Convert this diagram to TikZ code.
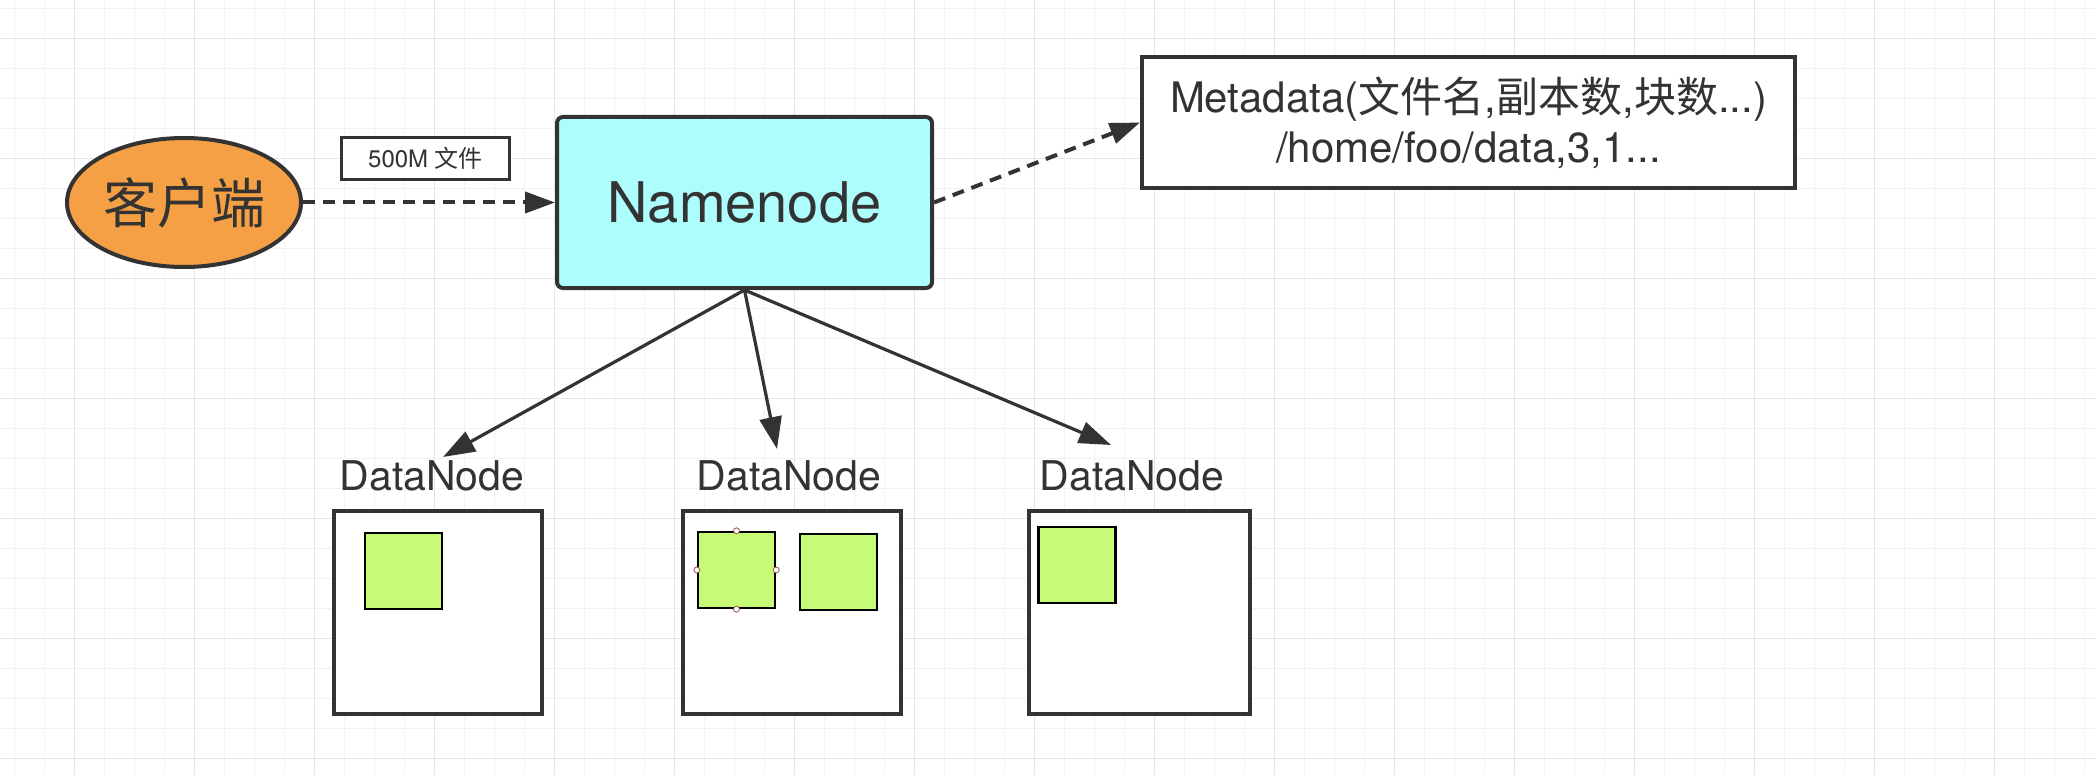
\documentclass[tikz,border=0pt]{standalone}
\usepackage{fontspec}
\setmainfont{TeX Gyre Heros}
\newfontfamily\cjk{Noto Sans CJK SC}
\usetikzlibrary{shapes.geometric,arrows.meta}
\definecolor{ink}{HTML}{333333}
\definecolor{gridminor}{HTML}{F2F2F2}
\definecolor{gridmajor}{HTML}{E6E6E6}
\definecolor{orangefill}{HTML}{F5A044}
\definecolor{cyanfill}{HTML}{AEFDFD}
\definecolor{greenfill}{HTML}{C6FA77}
\definecolor{handlec}{HTML}{A0524D}
\tikzset{
  box/.style={draw=ink, line width=2pt, fill=white, inner sep=0pt, text=ink},
  blockbox/.style={draw=black, line width=1.2pt, fill=greenfill, inner sep=0pt,
    minimum width=38.5pt, minimum height=38pt},
  handle/.style={circle, draw=handlec, line width=0.4pt, fill=white, inner sep=0pt, minimum size=3pt},
  dnlabel/.style={text=ink, inner sep=0pt, font=\fontsize{20.5}{24}\selectfont},
  tipA/.style={-{Triangle[length=16pt,width=11pt]}},
  dasharrow/.style={draw=ink, line width=2pt, dash pattern=on 6pt off 4pt, -{Triangle[length=15pt,width=10.5pt]}},
  solidarrow/.style={draw=ink, line width=1.6pt, tipA},
}
\begin{document}
\begin{tikzpicture}[x=0.5pt,y=-0.5pt]
\useasboundingbox (0,0) rectangle (2096,775);
\fill[white] (0,0) rectangle (2096,775);
% grid
\foreach \k in {0,...,69} \draw[gridminor, line width=0.5pt] ({14.3+30*\k},0) -- ({14.3+30*\k},775);
\foreach \k in {0,...,25} \draw[gridminor, line width=0.5pt] (0,{8.3+30*\k}) -- (2096,{8.3+30*\k});
\foreach \k in {0,...,16} \draw[gridmajor, line width=0.6pt] ({74.3+120*\k},0) -- ({74.3+120*\k},775);
\foreach \k in {0,...,6} \draw[gridmajor, line width=0.6pt] (0,{38.3+120*\k}) -- (2096,{38.3+120*\k});

% nodes
\node[ellipse, draw=ink, line width=2pt, fill=orangefill, inner sep=0pt,
      minimum width=117pt, minimum height=64.5pt, text=ink,
      font=\cjk\fontsize{27}{32}\selectfont] (client) at (184,202.5) {客户端};
\node[box, line width=1.5pt, minimum width=84pt, minimum height=21pt,
      font=\fontsize{12}{14}\selectfont] (lbl) at (425.5,158.5) {500M {\cjk 文件}};
\node[box, fill=cyanfill, rounded corners=3pt, minimum width=187.5pt, minimum height=85.5pt,
      font=\fontsize{28}{32}\selectfont] (nn) at (744.5,202.5) {Namenode};
\node[box, minimum width=326.5pt, minimum height=65.5pt, align=center,
      font=\fontsize{21}{25}\selectfont] (meta) at (1468.5,122.5)
      {Metadata({\cjk 文件名},{\cjk 副本数},{\cjk 块数}...)\\/home/foo/data,3,1...};

\node[dnlabel, anchor=base] (dnl1) at (432,490) {DataNode};
\node[dnlabel, anchor=base] (dnl2) at (789,490) {DataNode};
\node[dnlabel, anchor=base] (dnl3) at (1132,490) {DataNode};

\node[box, minimum width=104pt, minimum height=101.5pt] (dn1) at (438,612.5) {};
\node[box, minimum width=109pt, minimum height=101.5pt] (dn2) at (792,612.5) {};
\node[box, minimum width=110.5pt, minimum height=101.5pt] (dn3) at (1139.5,612.5) {};

\node[blockbox] (g1) at (403.5,571) {};
\node[blockbox] (g2a) at (736.5,570) {};
\node[blockbox] (g2b) at (838.5,572) {};
\node[blockbox] (g3) at (1077,565) {};

\node[handle] (h1) at (g2a.north) {};
\node[handle] (h2) at (g2a.south) {};
\node[handle] (h3) at (g2a.east) {};
\node[handle] (h4) at (g2a.west) {};

% connectors
\coordinate (t1) at (443,457);
\coordinate (t2) at (777,449);
\coordinate (t3) at (1111,445);
\draw[dasharrow] (client.east) -- (nn.west);
\draw[dasharrow] (nn.east) -- (meta.west);
\draw[solidarrow] (nn.south) -- (t1);
\draw[solidarrow] (nn.south) -- (t2);
\draw[solidarrow] (nn.south) -- (t3);
\end{tikzpicture}
\end{document}
